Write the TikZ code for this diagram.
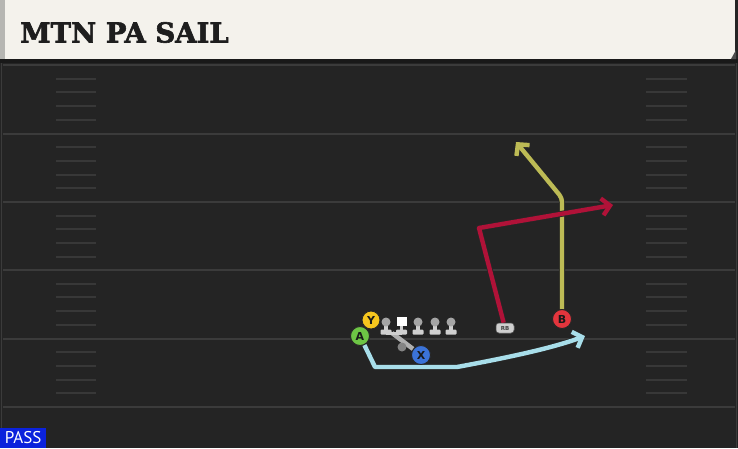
\documentclass[tikz,border=0pt]{standalone}
\usepackage{fontspec}
\setmainfont{DejaVu Sans}
\newfontfamily\titlefont[FakeBold=2.2]{DejaVu Serif Bold}
\newfontfamily\passfont{PT Sans}
\usetikzlibrary{arrows.meta}
\definecolor{fieldbg}{HTML}{242424}
\definecolor{headerbg}{HTML}{F4F2EC}
\definecolor{stripgray}{HTML}{B6B6B2}
\definecolor{yardline}{HTML}{3B3B3B}
\definecolor{hashline}{HTML}{383838}
\definecolor{routeblue}{HTML}{A8DEEA}
\definecolor{routered}{HTML}{B01238}
\definecolor{routeyellow}{HTML}{BDBB55}
\definecolor{pgreen}{HTML}{6DC545}
\definecolor{pyellow}{HTML}{F6C61E}
\definecolor{pblue}{HTML}{3B73D8}
\definecolor{pred}{HTML}{E3353D}
\definecolor{pawnbody}{HTML}{CFCFCF}
\definecolor{pawnhead}{HTML}{A5A5A5}
\definecolor{passblue}{HTML}{0B22DC}
\definecolor{titlecol}{HTML}{1E1E1E}
\tikzset{
  player/.style={circle, draw=black!85, line width=0.9pt, minimum size=19pt, inner sep=0pt,
    font=\bfseries\fontsize{11}{11}\selectfont, text=black!90},
  route/.style={line width=4.4pt, line join=round,
    -{Straight Barb[length=8pt,width=17pt]},
    preaction={draw=black!85, line width=6pt}},
  yard/.style={draw=yardline, line width=2pt},
  hashmark/.style={draw=hashline, line width=2pt},
  lineman/.pic={
    \fill[pawnbody] (-1.8,0) rectangle (1.8,11);
    \fill[pawnbody, rounded corners=1pt] (-5.5,7.5) rectangle (5.5,12.5);
    \fill[pawnhead] (0,0) circle (4.5);
  },
  centerman/.pic={
    \fill[pawnbody] (-1.8,0) rectangle (1.8,11);
    \fill[pawnbody, rounded corners=1pt] (-5.5,7.5) rectangle (5.5,12.5);
    \fill[white] (-5,-5) rectangle (5,4);
  },
  rbstyle/.style={fill=pawnbody, draw=black!70, line width=0.5pt, rounded corners=3pt,
    minimum width=18pt, minimum height=10pt, inner sep=0pt,
    font=\bfseries\fontsize{5.5}{5.5}\selectfont, text=black!75}
}
\begin{document}
\begin{tikzpicture}[x=1pt,y=-1pt]
\useasboundingbox (0,0) rectangle (738,448);
\fill[fieldbg] (0,0) rectangle (738,448);
% side lines
\draw[draw=yardline, line width=1.5pt] (1.5,60) -- (1.5,448);
\draw[draw=yardline, line width=1.5pt] (736.5,60) -- (736.5,448);
% header
\fill[headerbg] (5,0) rectangle (735,59);
\fill[stripgray] (0,0) rectangle (5,59);
\fill[black!90] (0,59) rectangle (738,63);
\fill[black!70] (731,59) -- (736,50) -- (736,59) -- cycle;
\node[anchor=base west, text=titlecol, inner sep=0pt,
  font=\titlefont\fontsize{27.5}{27.5}\selectfont] (title) at (20,42.5) {MTN PA SAIL};
% yard lines
\foreach \yy in {65,133.5,202,270,338.5,407}
  \draw[yard] (3,\yy) -- (735,\yy);
% hash marks
\foreach \yy in {65,133.5,202,270,338.5}
  \foreach \k in {1,2,3,4} {
    \draw[hashmark] (56,\yy+\k*13.7) -- (96,\yy+\k*13.7);
    \draw[hashmark] (646,\yy+\k*13.7) -- (687,\yy+\k*13.7);
  }
% players
\node[player, fill=pgreen] (A) at (360,336) {A};
\node[player, fill=pyellow, minimum size=18pt] (Y) at (371,320) {Y};
\node[player, fill=pblue] (X) at (421,355) {X};
\node[player, fill=pred] (B) at (562,319) {B};
\node[rbstyle] (RB) at (505,328) {RB};
% route coordinates
\coordinate (a1) at (375,367);
\coordinate (a2) at (457,367);
\coordinate (a3) at (585,336);
\coordinate (r1) at (479,228);
\coordinate (r2) at (613,205);
\coordinate (y1) at (562,198);
\coordinate (y2) at (516,142);
\coordinate (qb1) at (392,333);
\coordinate (qbdot) at (402,347);
% routes
\draw[route, routeyellow, rounded corners=4pt] (B) -- (y1) -- (y2);
\draw[route, routered] (RB) -- (r1) -- (r2);
\draw[route, routeblue] (A) -- (a1) -- (a2) .. controls (500,359) and (550,349) .. (a3);
% QB play action
\draw[pawnbody!85!black, line width=4.5pt] (qb1) -- (X);
\fill[pawnhead!80!black] (qbdot) circle (4.5);
% offensive line
\pic at (386,322) {lineman};
\pic at (401.5,322) {centerman};
\pic at (418,322) {lineman};
\pic at (435,322) {lineman};
\pic at (451,322) {lineman};
\draw[pawnbody, line width=3pt] (386,333) -- (401.5,333);
% redraw players on top
\node[player, fill=pgreen] at (A) {A};
\node[player, fill=pyellow, minimum size=18pt] at (Y) {Y};
\node[player, fill=pblue] at (X) {X};
\node[player, fill=pred] at (B) {B};
\node[rbstyle] at (RB) {RB};
% pass label
\node[fill=passblue, text=white, anchor=south west, minimum width=46pt, minimum height=20pt,
  inner sep=0pt, font=\passfont\fontsize{17}{17}\selectfont] (pass) at (0,448) {PASS};
\end{tikzpicture}
\end{document}
